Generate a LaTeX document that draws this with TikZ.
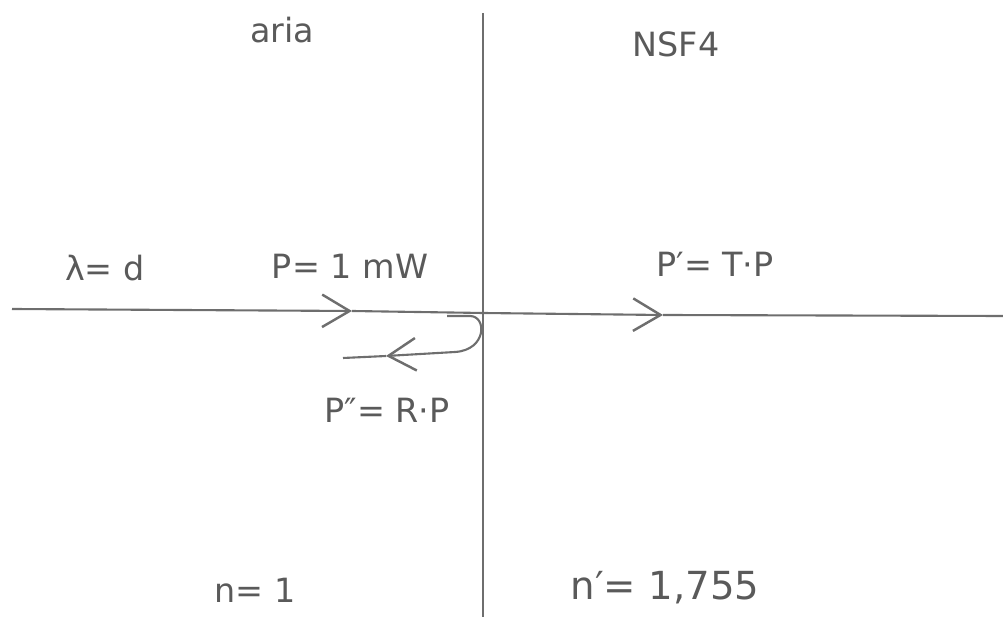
\documentclass[tikz,border=0pt]{standalone}
\usepackage{fontspec}
\setmainfont{DejaVu Sans}
\usetikzlibrary{arrows.meta}
\definecolor{pencil}{HTML}{6E6E6E}
\definecolor{lead}{HTML}{5A5A5A}
\tikzset{
  axis/.style={draw=pencil, line width=1.2pt},
  ray/.style={
    draw=pencil,
    line width=1.2pt,
    -{Straight Barb[length=5.5mm, width=6.5mm, line width=1.4pt]},
  },
  lbl/.style={text=lead, inner sep=1pt, font=\fontsize{19}{22}\selectfont},
  big/.style={lbl, font=\fontsize{22}{26}\selectfont},
}

\begin{document}
\begin{tikzpicture}[x=0.02cm, y=-0.02cm]
  \useasboundingbox (0,0) rectangle (1003,617);

  % interface and beam
  \coordinate (top) at (483,13);
  \coordinate (bot) at (483,617);
  \coordinate (west) at (12,309);
  \coordinate (east) at (1003,316);
  \coordinate (hit) at (483,313);
  \coordinate (inA) at (352,311);
  \coordinate (outA) at (663,315);
  \coordinate (bend) at (447,316);
  \coordinate (back) at (386,356);
  \coordinate (tail) at (343,358);

  \draw[axis] (top) -- (bot);
  \draw[ray] (west) -- (inA);
  \draw[axis] (inA) -- (hit);
  \draw[ray] (hit) -- (outA);
  \draw[axis] (outA) -- (east);
  \draw[ray] (bend) -- (470,316) .. controls (487,316) and (487,350) .. (455,352) -- (back);
  \draw[axis] (back) -- (tail);

  % labels
  \node[lbl] (air) at (282,30) {aria};
  \node[lbl] (nsf) at (676,44) {NSF4};
  \node[lbl] (lam) at (105,268) {λ= d};
  \node[lbl] (pin) at (350,266) {P= 1 mW};
  \node[lbl] (ptr) at (715,264) {P′= T·P};
  \node[lbl] (pre) at (387,410) {P″= R·P};
  \node[lbl] (nair) at (255,590) {n= 1};
  \node[big] (nsfn) at (665,588) {n′= 1,755};
\end{tikzpicture}
\end{document}
